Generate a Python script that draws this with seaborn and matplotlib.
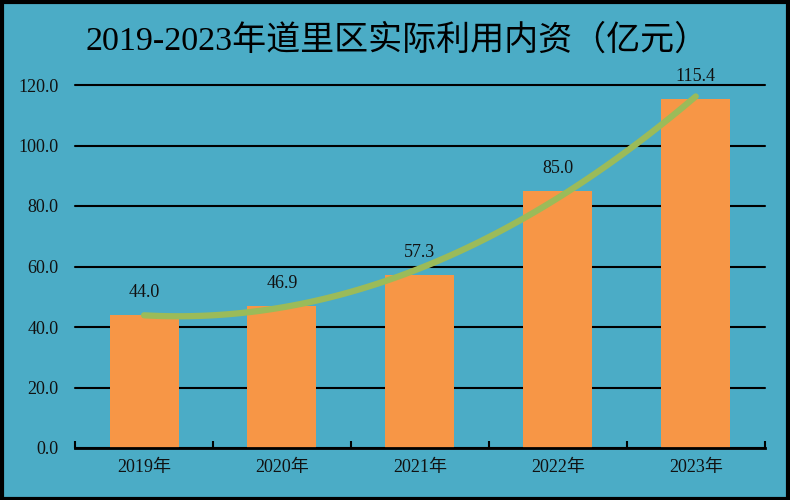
import matplotlib
matplotlib.use('Agg')
import matplotlib.pyplot as plt
import seaborn as sns
import numpy as np
from matplotlib.patches import Rectangle
from matplotlib.ticker import FixedLocator

# data
years = ['2019年', '2020年', '2021年', '2022年', '2023年']
values = [44.0, 46.9, 57.3, 85.0, 115.4]
yticks = [0, 20, 40, 60, 80, 100, 120]

bg = '#4BACC6'
bar_color = '#F79646'
trend_color = '#9BBB59'

sns.set_theme(style='white')
plt.rcParams['font.family'] = ['Liberation Serif', 'Noto Sans CJK SC', 'DejaVu Sans']

fig = plt.figure(figsize=(7.9, 5.0), dpi=100)
fig.patch.set_facecolor(bg)
ax = fig.add_axes([0.095, 0.104, 0.873, 0.726])
ax.set_facecolor(bg)

sns.barplot(x=years, y=values, color=bar_color, saturation=1, width=0.5, ax=ax,
            zorder=3, edgecolor='none', linewidth=0)

# quadratic trend line, like the Excel one
xs = np.arange(len(values))
sns.regplot(x=xs, y=np.array(values), order=2, ci=None, scatter=False, ax=ax,
            line_kws={'color': trend_color, 'lw': 4.5, 'solid_capstyle': 'round', 'zorder': 4})

ax.bar_label(ax.containers[0], fmt='%.1f', padding=10, fontsize=13, color='#111111')

ax.set_xlim(-0.5, 4.5)
ax.set_ylim(0, 120)
ax.set_yticks(yticks)
ax.set_yticklabels([f'{v:.1f}' for v in yticks], fontsize=13)
ax.set_xticks(xs)
ax.set_xticklabels(years, fontsize=13)
ax.xaxis.set_minor_locator(FixedLocator([-0.5, 0.5, 1.5, 2.5, 3.5, 4.5]))
ax.tick_params(axis='x', which='major', length=0, pad=8, colors='#111111')
ax.tick_params(axis='x', which='minor', length=5, width=1.5, direction='in', color='black', bottom=True)
ax.tick_params(axis='y', length=0, pad=12, colors='#111111')
ax.set_xlabel('')
ax.set_ylabel('')

ax.yaxis.grid(True, color='black', lw=1.5, zorder=0)
ax.set_axisbelow(True)
for line in ax.get_ygridlines():
    line.set_clip_on(False)
for s in ['left', 'top', 'right']:
    ax.spines[s].set_visible(False)
ax.spines['bottom'].set_color('black')
ax.spines['bottom'].set_linewidth(2)
ax.spines['bottom'].set_zorder(5)

fig.text(0.502, 0.918, '2019-2023年道里区实际利用内资（亿元）', ha='center', va='center',
         fontsize=24.5, color='black')

fig.add_artist(Rectangle((0.002, 0.003), 0.996, 0.994, transform=fig.transFigure,
                         fill=False, edgecolor='black', lw=3))

fig.savefig('out.png', dpi=100, facecolor=bg)
